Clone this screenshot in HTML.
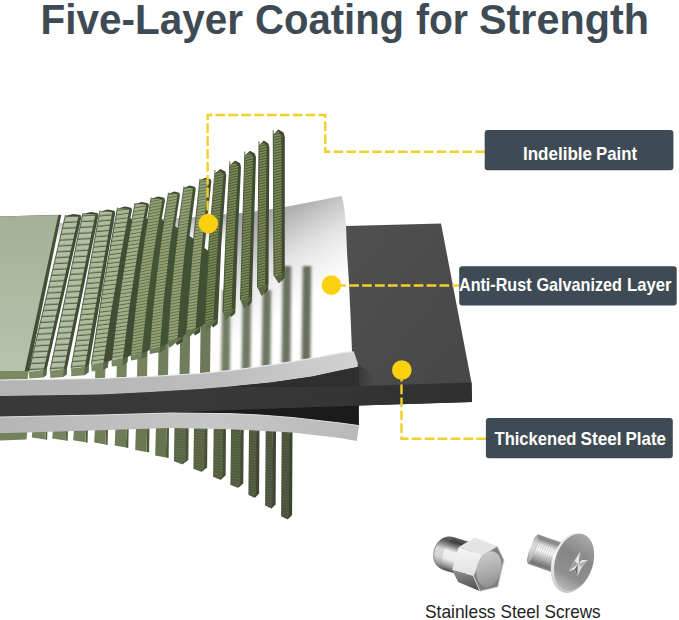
<!DOCTYPE html>
<html><head><meta charset="utf-8"><title>Five-Layer Coating for Strength</title>
<style>
html,body{margin:0;padding:0;background:#fff;}
body{width:679px;height:620px;overflow:hidden;font-family:"Liberation Sans",sans-serif;}
svg{display:block;position:absolute;left:0;top:0;}
text{font-family:"Liberation Sans",sans-serif;}
</style></head><body>
<svg width="679" height="620" viewBox="0 0 679 620">
<defs>
<linearGradient id="gPanel" x1="0" y1="0" x2="0" y2="1"><stop offset="0" stop-color="#a5b096"/><stop offset="1" stop-color="#b9c2ab"/></linearGradient>
<linearGradient id="gSheet" gradientUnits="userSpaceOnUse" x1="250" y1="201.1" x2="310" y2="305.5"><stop offset="0" stop-color="#9e9e9e"/><stop offset="0.167" stop-color="#a9a9a9"/><stop offset="0.29" stop-color="#b9b9b9"/><stop offset="0.375" stop-color="#c8c8c8"/><stop offset="0.53" stop-color="#dedede"/><stop offset="0.63" stop-color="#e9e9e9"/><stop offset="0.79" stop-color="#f5f5f5"/><stop offset="0.96" stop-color="#ffffff"/></linearGradient>
<linearGradient id="gSheetL" gradientUnits="userSpaceOnUse" x1="0" y1="213" x2="0" y2="250"><stop offset="0" stop-color="#a4a4a4"/><stop offset="0.35" stop-color="#cfcfcf"/><stop offset="0.7" stop-color="#f2f2f2"/><stop offset="1" stop-color="#ffffff"/></linearGradient>
<linearGradient id="gSlabTop" x1="0" y1="0" x2="1" y2="1"><stop offset="0" stop-color="#505050"/><stop offset="1" stop-color="#474747"/></linearGradient>
<linearGradient id="gBandT" x1="0" y1="0" x2="1" y2="0"><stop offset="0" stop-color="#b4b4b4"/><stop offset="0.6" stop-color="#bcbcbc"/><stop offset="1" stop-color="#d2d2d2"/></linearGradient>
<linearGradient id="gBandB" x1="0" y1="0" x2="1" y2="0"><stop offset="0" stop-color="#b6b6b6"/><stop offset="0.6" stop-color="#c6c6c6"/><stop offset="1" stop-color="#b9b9b9"/></linearGradient>
<linearGradient id="gFront" x1="0" y1="0" x2="1" y2="0"><stop offset="0" stop-color="#393939"/><stop offset="0.6" stop-color="#373737"/><stop offset="1" stop-color="#2f2f2f"/></linearGradient>
<linearGradient id="gDome" x1="0" y1="0" x2="0" y2="1"><stop offset="0" stop-color="#5a5a5a"/><stop offset="0.13" stop-color="#3f3f3f"/><stop offset="0.27" stop-color="#8c8c8c"/><stop offset="0.42" stop-color="#f0f0f0"/><stop offset="0.66" stop-color="#ededed"/><stop offset="0.84" stop-color="#a5a5a5"/><stop offset="1" stop-color="#4f4f4f"/></linearGradient>
<linearGradient id="gHexL" x1="0" y1="0" x2="0" y2="1"><stop offset="0" stop-color="#f6f6f6"/><stop offset="1" stop-color="#e2e2e2"/></linearGradient>
<linearGradient id="gHexB" x1="0" y1="0" x2="0.3" y2="1"><stop offset="0" stop-color="#939393"/><stop offset="1" stop-color="#555555"/></linearGradient>
<linearGradient id="gHexF" x1="0" y1="0" x2="0.4" y2="1"><stop offset="0" stop-color="#d0d0d0"/><stop offset="0.55" stop-color="#b4b4b4"/><stop offset="1" stop-color="#969696"/></linearGradient>
<linearGradient id="gShaft" x1="0" y1="0" x2="0" y2="1"><stop offset="0" stop-color="#9a9a9a"/><stop offset="0.1" stop-color="#858585"/><stop offset="0.28" stop-color="#e4e4e4"/><stop offset="0.46" stop-color="#fbfbfb"/><stop offset="0.68" stop-color="#bdbdbd"/><stop offset="0.9" stop-color="#747474"/><stop offset="1" stop-color="#8e8e8e"/></linearGradient>
<linearGradient id="gHead" x1="0.6" y1="0" x2="0.45" y2="1"><stop offset="0" stop-color="#a8a8a8"/><stop offset="0.4" stop-color="#878787"/><stop offset="0.75" stop-color="#8f8f8f"/><stop offset="1" stop-color="#b9b9b9"/></linearGradient>
<linearGradient id="gRim" x1="0" y1="0" x2="0" y2="1"><stop offset="0" stop-color="#dcdcdc"/><stop offset="0.5" stop-color="#f3f3f3"/><stop offset="1" stop-color="#c9c9c9"/></linearGradient>
<linearGradient id="gShadR" gradientUnits="userSpaceOnUse" x1="358" y1="0" x2="374" y2="0"><stop offset="0" stop-color="#2f2f2f" stop-opacity="0.7"/><stop offset="1" stop-color="#2f2f2f" stop-opacity="0"/></linearGradient>
<filter id="blur1" x="-50%" y="-10%" width="200%" height="120%"><feGaussianBlur stdDeviation="0.7 0.5"/></filter>
<filter id="blur2" x="-50%" y="-10%" width="200%" height="120%"><feGaussianBlur stdDeviation="1.6 1.2"/></filter>
<pattern id="brA" width="30" height="5.8" patternUnits="userSpaceOnUse" patternTransform="rotate(-3)"><rect width="30" height="5.8" fill="#b3bfa2"/><rect y="4.5" width="30" height="1.3" fill="#566449"/></pattern>
<pattern id="brB" width="30" height="5.1" patternUnits="userSpaceOnUse" patternTransform="rotate(-5)"><rect width="30" height="5.1" fill="#aebb9b"/><rect y="3.9" width="30" height="1.2" fill="#566448"/></pattern>
<pattern id="brB2" width="30" height="4.3" patternUnits="userSpaceOnUse" patternTransform="rotate(-7)"><rect width="30" height="4.3" fill="#a8b693"/><rect y="3.3" width="30" height="1" fill="#586647"/></pattern>
<pattern id="brC" width="30" height="3.6" patternUnits="userSpaceOnUse" patternTransform="rotate(-9)"><rect width="30" height="3.6" fill="#a0ae88"/><rect y="2.75" width="30" height="0.85" fill="#5a6947"/></pattern>
<pattern id="brD" width="30" height="2.9" patternUnits="userSpaceOnUse" patternTransform="rotate(-12)"><rect width="30" height="2.9" fill="#93a274"/><rect y="2.1" width="30" height="0.8" fill="#586743"/></pattern>
<pattern id="brE" width="30" height="2.6" patternUnits="userSpaceOnUse" patternTransform="rotate(-14)"><rect width="30" height="2.6" fill="#7f8e5a"/><rect y="1.55" width="30" height="1.05" fill="#485531"/></pattern>
<pattern id="brLines" width="30" height="2.7" patternUnits="userSpaceOnUse" patternTransform="rotate(8)"><rect y="1.9" width="30" height="0.8" fill="#2e361f" opacity="0.35"/></pattern>
</defs>

<polygon points="96.0,223.0 150.0,220.0 200.0,217.0 250.0,212.0 285.0,207.0 341.7,196.0 344.0,206.0 346.0,225.0 347.0,252.0 348.8,280.0 350.5,315.0 352.0,351.5 340.0,352.5 300.0,361.0 270.0,366.5 235.0,371.5 200.0,375.0 150.0,378.0 100.0,379.5 0.0,380.5 0.0,223.0" fill="url(#gSheet)"/>
<polygon points="96.0,223.0 150.0,220.0 200.0,217.0 232.0,214.0 232.0,372.0 200.0,375.0 150.0,378.0 100.0,379.5 0.0,380.5 0.0,223.0" fill="url(#gSheetL)"/>
<g filter="url(#blur1)">
<polygon points="95.7,355.0 105.7,355.0 105.0,380.5 95.0,380.5" fill="#78865f"/>
<polygon points="117.2,350.0 127.2,350.0 126.5,379.4 116.5,379.4" fill="#76845d"/>
<polygon points="137.7,344.0 147.7,344.0 147.0,378.4 137.0,378.4" fill="#74825c"/>
<polygon points="158.7,337.0 168.7,337.0 168.0,377.2 158.0,377.2" fill="#727f5b"/>
<polygon points="180.2,330.0 190.2,330.0 189.5,375.9 179.5,375.9" fill="#707c5a"/>
<polygon points="200.7,320.0 210.7,320.0 210.0,374.4 200.0,374.4" fill="#6e795a"/>
</g>
<g filter="url(#blur2)">
<polygon points="222.3,290.0 230.7,290.0 229.9,372.1 221.1,372.1" fill="#727b64"/>
<polygon points="242.8,290.0 251.2,290.0 250.4,369.6 241.6,369.6" fill="#6f7762"/>
<polygon points="262.8,290.0 271.2,290.0 270.4,367.0 261.6,367.0" fill="#6d7461"/>
<polygon points="282.8,266.0 291.2,266.0 290.4,363.8 281.6,363.8" fill="#6b7160"/>
<polygon points="302.8,266.0 311.2,266.0 310.4,360.3 301.6,360.3" fill="#686d5e"/>
</g>
<polygon points="0.0,216.6 61.3,214.8 28.9,371.5 24.0,372.0 0.0,372.0" fill="#434f36"/>
<polygon points="0.0,216.6 58.3,214.9 24.7,371.0 0.0,371.5" fill="url(#gPanel)"/>
<polygon points="0.0,371.6 24.5,371.0 28.5,371.5 27.5,379.3 0.0,380.0" fill="#7a8962"/>
<polygon points="78.5,216.0 81.5,216.6 64.1,293.2 46.7,369.3 46.3,374.9 43.0,377.6 39.5,370.6 57.0,293.2 74.5,219.0" fill="#414d35"/>
<polygon points="28.9,371.4 43.5,370.6 46.7,369.3 46.3,374.9 43.0,377.6 29.2,378.4" fill="#7d8c65"/>
<polygon points="43.5,370.6 46.7,369.3 46.3,374.9 43.0,377.6" fill="#414d35" opacity="0.55"/>
<path d="M65.5 215.7 L73.6 215.0 L78.5 216.0 Q61.0 293.2 43.5 370.6 L28.9 371.4 Q47.2 293.2 65.5 215.7Z" fill="url(#brA)"/>
<path d="M65.5 215.0 Q47.2 293.2 28.9 371.4" fill="none" stroke="#414d35" stroke-width="1" opacity="0.85"/>
<polygon points="65.1,216.0 73.6,214.1 80.3,215.1 81.5,216.6 78.5,216.5 73.6,215.9" fill="#3c4730"/>
<polygon points="95.5,214.1 98.5,214.7 82.8,291.8 67.0,368.2 66.6,374.2 63.2,377.0 59.7,369.5 75.6,291.8 91.5,217.0" fill="#414d35"/>
<polygon points="50.0,370.5 63.7,369.5 67.0,368.2 66.6,374.2 63.2,377.0 50.3,378.0" fill="#7c8b64"/>
<polygon points="63.7,369.5 67.0,368.2 66.6,374.2 63.2,377.0" fill="#414d35" opacity="0.55"/>
<path d="M83.0 213.8 L90.8 213.0 L95.5 214.1 Q79.6 291.8 63.7 369.5 L50.0 370.5 Q66.5 291.8 83.0 213.8Z" fill="url(#brA)"/>
<path d="M83.0 213.0 Q66.5 291.8 50.0 370.5" fill="none" stroke="#414d35" stroke-width="1" opacity="0.85"/>
<polygon points="82.6,214.1 90.8,212.1 97.3,213.1 98.5,214.7 95.5,214.6 90.8,213.9" fill="#3c4730"/>
<polygon points="112.3,211.7 115.3,212.3 102.0,289.4 88.8,365.9 88.4,372.3 84.3,375.3 80.8,367.3 94.5,289.4 108.3,214.5" fill="#414d34"/>
<polygon points="71.0,368.3 84.8,367.3 88.8,365.9 88.4,372.3 84.3,375.3 71.3,376.3" fill="#7b8a63"/>
<polygon points="84.8,367.3 88.8,365.9 88.4,372.3 84.3,375.3" fill="#414d34" opacity="0.55"/>
<path d="M100.0 211.4 L107.6 210.5 L112.3 211.7 Q98.5 289.4 84.8 367.3 L71.0 368.3 Q85.5 289.4 100.0 211.4Z" fill="url(#brB)"/>
<path d="M100.0 210.5 Q85.5 289.4 71.0 368.3" fill="none" stroke="#414d34" stroke-width="1" opacity="0.85"/>
<polygon points="99.6,211.7 107.6,209.6 114.1,210.7 115.3,212.3 112.3,212.2 107.6,211.4" fill="#3c4730"/>
<polygon points="129.5,208.8 132.1,209.4 130.4,218.0 134.8,223.0 124.2,286.0 114.6,359.0 108.3,361.6 107.9,367.2 102.9,370.1 99.4,363.1 111.4,286.0 125.5,211.5" fill="#414d34"/>
<polygon points="91.3,364.5 103.4,363.1 108.3,361.6 107.9,367.2 102.9,370.1 91.6,371.5" fill="#7a8962"/>
<polygon points="103.4,363.1 108.3,361.6 107.9,367.2 102.9,370.1" fill="#414d34" opacity="0.55"/>
<path d="M117.5 208.5 L124.9 207.5 L129.5 208.8 Q114.4 286.0 103.4 363.1 L91.3 364.5 Q102.4 286.0 117.5 208.5Z" fill="url(#brB2)"/>
<path d="M117.5 207.5 Q102.4 286.0 91.3 364.5" fill="none" stroke="#414d34" stroke-width="1" opacity="0.85"/>
<polygon points="117.1,208.8 124.9,206.6 131.1,207.7 132.1,209.4 129.5,209.3 124.9,208.4" fill="#3c4730"/>
<polygon points="146.2,204.3 149.0,205.1 146.5,218.0 150.5,223.0 141.7,281.5 133.8,354.0 127.7,357.0 127.3,362.3 122.4,365.2 118.9,358.6 129.1,281.5 142.2,207.0" fill="#404c33"/>
<polygon points="111.5,360.0 122.9,358.6 127.7,357.0 127.3,362.3 122.4,365.2 111.8,366.6" fill="#798862"/>
<polygon points="122.9,358.6 127.7,357.0 127.3,362.3 122.4,365.2" fill="#404c33" opacity="0.55"/>
<path d="M135.0 204.0 L141.9 203.0 L146.2 204.3 Q131.6 281.5 122.9 358.6 L111.5 360.0 Q120.2 281.5 135.0 204.0Z" fill="url(#brC)"/>
<path d="M135.0 203.0 Q120.2 281.5 111.5 360.0" fill="none" stroke="#404c33" stroke-width="1" opacity="0.85"/>
<polygon points="134.6,204.3 141.9,202.1 147.9,203.2 149.0,205.0 146.2,204.8 141.9,203.9" fill="#3c4730"/>
<polygon points="162.5,198.9 165.1,199.7 161.7,219.0 167.0,224.0 159.5,276.2 152.6,347.7 147.0,351.6 146.6,356.0 141.2,358.8 137.7,353.3 146.4,276.2 158.5,201.5" fill="#445236"/>
<polygon points="130.7,355.0 141.7,353.3 147.0,351.6 146.6,356.0 141.2,358.8 131.0,360.5" fill="#74835d"/>
<polygon points="141.7,353.3 147.0,351.6 146.6,356.0 141.2,358.8" fill="#445236" opacity="0.55"/>
<path d="M151.2 198.6 L158.2 197.5 L162.5 198.9 Q148.7 276.2 141.7 353.3 L130.7 355.0 Q137.6 276.2 151.2 198.6Z" fill="url(#brD)"/>
<path d="M151.2 197.5 Q137.6 276.2 130.7 355.0" fill="none" stroke="#445236" stroke-width="1" opacity="0.85"/>
<polygon points="150.8,198.9 158.2,196.6 164.1,197.8 165.1,199.7 162.5,199.4 158.2,198.4" fill="#3c4730"/>
<polygon points="177.7,194.0 180.0,194.8 175.1,226.0 181.3,231.0 176.4,270.6 170.6,340.0 165.5,345.2 165.1,349.4 159.5,352.2 156.0,346.9 162.8,270.6 173.7,196.5" fill="#435135"/>
<polygon points="149.5,348.7 160.0,346.9 165.5,345.2 165.1,349.4 159.5,352.2 149.8,354.0" fill="#6f7e59"/>
<polygon points="160.0,346.9 165.5,345.2 165.1,349.4 159.5,352.2" fill="#435135" opacity="0.55"/>
<path d="M168.5 193.7 L174.2 192.5 L177.7 194.0 Q164.8 270.6 160.0 346.9 L149.5 348.7 Q155.0 270.6 168.5 193.7Z" fill="url(#brD)"/>
<path d="M168.5 192.5 Q155.0 270.6 149.5 348.7" fill="none" stroke="#435135" stroke-width="1" opacity="0.85"/>
<polygon points="168.1,194.0 174.2,191.6 179.1,192.8 180.0,194.8 177.7,194.5 174.2,193.4" fill="#3c4730"/>
<polygon points="193.0,188.0 195.8,188.8 189.5,236.0 196.6,241.0 194.3,263.7 189.1,330.0 183.0,336.9 182.6,342.1 177.0,345.2 173.5,338.7 179.4,263.7 189.0,190.4" fill="#425034"/>
<polygon points="167.5,341.0 177.5,338.7 183.0,336.9 170.4,347.2 168.9,347.5" fill="#6b7a55"/>
<path d="M184.0 187.7 L189.6 186.4 L193.0 188.0 Q181.6 263.7 177.5 338.7 L167.5 341.0 Q172.1 263.7 184.0 187.7Z" fill="url(#brD)"/>
<path d="M184.0 186.4 Q172.1 263.7 167.5 341.0" fill="none" stroke="#425034" stroke-width="1" opacity="0.85"/>
<polygon points="183.6,188.0 189.6,185.5 194.7,186.8 195.8,188.8 193.0,188.5 189.6,187.3" fill="#3c4730"/>
<polygon points="208.7,180.4 211.3,181.2 204.5,248.0 211.4,253.0 211.3,254.8 207.6,321.5 200.5,327.1 200.1,332.3 195.0,335.5 191.5,329.0 197.1,254.8 204.7,182.7" fill="#414f33"/>
<polygon points="186.0,331.0 195.5,329.0 200.5,327.1 189.1,337.2 187.6,337.5" fill="#677651"/>
<path d="M200.0 180.1 L205.4 178.7 L208.7 180.4 Q200.1 254.8 195.5 329.0 L186.0 331.0 Q191.0 254.8 200.0 180.1Z" fill="url(#brD)"/>
<path d="M200.0 178.7 Q191.0 254.8 186.0 331.0" fill="none" stroke="#414f33" stroke-width="1" opacity="0.85"/>
<polygon points="199.6,180.4 205.4,177.8 210.3,179.1 211.3,181.2 208.7,180.9 205.4,179.6" fill="#3c4730"/>
<polygon points="223.7,173.8 226.3,175.0 221.2,246.2 218.0,318.5 217.6,324.1 213.0,327.5 209.5,320.5 213.6,246.2 219.7,174.0" fill="#414e33"/>
<polygon points="204.5,322.5 213.5,320.5 218.0,318.5 208.6,329.2 207.1,329.5" fill="#63724d"/>
<path d="M215.0 173.5 L220.4 170.0 L223.7 173.8 Q216.6 246.2 213.5 320.5 L204.5 322.5 Q207.8 246.2 215.0 173.5Z" fill="url(#brE)"/>
<path d="M215.0 170.0 Q207.8 246.2 204.5 322.5" fill="none" stroke="#414e33" stroke-width="1" opacity="0.85"/>
<polygon points="214.6,173.8 220.4,169.1 225.3,171.6 226.3,175.0 223.7,174.3 220.4,170.9" fill="#3c4730"/>
<polygon points="238.4,165.5 241.0,166.8 237.8,236.9 235.5,307.8 235.1,313.4 231.0,316.9 227.5,309.9 230.4,236.9 234.4,165.4" fill="#404d32"/>
<polygon points="223.0,312.5 231.5,309.9 235.5,307.8 227.1,319.2 225.6,319.5" fill="#5f6e4a"/>
<path d="M229.9 165.2 L235.2 161.4 L238.4 165.5 Q233.9 236.9 231.5 309.9 L223.0 312.5 Q225.4 236.9 229.9 165.2Z" fill="url(#brE)"/>
<path d="M229.9 161.4 Q225.4 236.9 223.0 312.5" fill="none" stroke="#404d32" stroke-width="1" opacity="0.85"/>
<polygon points="229.5,165.5 235.2,160.5 240.0,163.2 241.0,166.8 238.4,166.0 235.2,162.3" fill="#3c4730"/>
<polygon points="253.0,156.0 256.0,157.3 254.0,225.8 252.0,296.1 251.6,302.5 248.0,306.3 244.5,298.3 246.8,225.8 249.0,155.6" fill="#404c32"/>
<polygon points="240.5,300.0 248.5,298.3 252.0,296.1 245.2,307.7 243.7,308.0" fill="#5c6a47"/>
<path d="M244.8 155.7 L249.9 151.6 L253.0 156.0 Q250.8 225.8 248.5 298.3 L240.5 300.0 Q242.7 225.8 244.8 155.7Z" fill="url(#brE)"/>
<path d="M244.8 151.6 Q242.7 225.8 240.5 300.0" fill="none" stroke="#404c32" stroke-width="1" opacity="0.85"/>
<polygon points="244.4,156.0 249.9,150.7 254.8,153.5 256.0,157.3 253.0,156.5 249.9,152.5" fill="#3c4730"/>
<polygon points="266.7,145.9 269.4,147.4 268.9,214.4 268.5,283.5 268.1,289.9 264.6,293.8 261.1,285.8 261.9,214.4 262.7,145.3" fill="#3f4b31"/>
<polygon points="257.5,287.5 265.1,285.8 268.5,283.5 262.8,295.2 261.3,295.5" fill="#596744"/>
<path d="M259.0 145.6 L263.8 141.3 L266.7 145.9 Q265.9 214.4 265.1 285.8 L257.5 287.5 Q258.2 214.4 259.0 145.6Z" fill="url(#brE)"/>
<path d="M259.0 141.3 Q258.2 214.4 257.5 287.5" fill="none" stroke="#3f4b31" stroke-width="1" opacity="0.85"/>
<polygon points="258.6,145.9 263.8,140.4 268.3,143.4 269.4,147.4 266.7,146.4 263.8,142.2" fill="#3c4730"/>
<polygon points="281.5,135.3 284.8,136.8 284.8,203.2 284.8,272.1 284.4,277.7 281.1,281.4 277.6,274.4 277.6,203.2 277.5,134.4" fill="#3f4a31"/>
<polygon points="274.0,276.0 281.6,274.4 284.8,272.1 280.0,282.7 278.5,283.0" fill="#566442"/>
<path d="M273.2 135.0 L278.3 130.4 L281.5 135.3 Q281.6 203.2 281.6 274.4 L274.0 276.0 Q273.6 203.2 273.2 135.0Z" fill="url(#brE)"/>
<path d="M273.2 130.4 Q273.6 203.2 274.0 276.0" fill="none" stroke="#3f4a31" stroke-width="1" opacity="0.85"/>
<polygon points="272.8,135.3 278.3,129.5 283.5,132.6 284.8,136.8 281.5,135.8 278.3,131.3" fill="#3c4730"/>
<polygon points="0.0,395.5 0.0,395.5 100.0,394.0 150.0,391.5 200.0,388.5 230.0,386.0 271.0,382.1 312.5,376.0 340.0,370.0 358.9,366.3 359.0,366.0 471.5,382.6 472.0,402.0 359.0,405.6 358.9,426.1 340.0,423.5 292.0,418.0 260.0,415.5 230.0,414.1 170.0,413.5 100.0,415.5 0.0,417.5" fill="#2c2c2c"/>
<polygon points="170.0,412.5 230.0,410.0 300.0,407.5 357.8,405.8 358.9,426.0 340.0,423.5 292.0,418.0 260.0,415.5 230.0,414.1 170.0,413.5" fill="#1b1b1b"/>
<polygon points="0.0,396.0 100.0,394.5 150.0,392.0 200.0,389.0 230.0,386.5 300.0,387.0 353.7,386.0 471.5,382.6 472.0,402.0 359.0,405.6 300.0,407.5 230.0,410.0 170.0,412.7 100.0,415.0 0.0,417.0" fill="url(#gFront)"/>
<polygon points="0.0,380.0 100.0,378.5 150.0,376.5 200.0,373.5 235.0,370.0 280.0,363.7 320.0,357.0 340.0,353.0 353.7,351.3 358.9,366.8 340.0,370.5 312.5,376.5 271.0,382.6 230.0,386.5 200.0,389.0 150.0,392.0 100.0,394.5 0.0,396.0" fill="url(#gBandT)"/>
<polyline points="0.0,380.0 100.0,378.5 150.0,376.5 200.0,373.5 235.0,370.0 280.0,363.7 320.0,357.0 340.0,353.0 353.7,351.3" fill="none" stroke="#e9e9e9" stroke-width="1.2"/>
<polygon points="346.0,226.0 441.0,223.5 471.5,382.4 359.0,386.0 358.9,366.8 353.7,351.3 352.0,351.5 350.5,315.0 348.8,280.0 347.0,252.0" fill="url(#gSlabTop)"/>
<polygon points="357.5,364.0 374.0,374.0 374.0,385.6 358.5,386.2" fill="url(#gShadR)"/>
<polygon points="358.9,366.8 340.0,370.5 312.5,376.5 271.0,382.6 230.0,386.5 300.0,386.8 359.0,386.0" fill="#2f2f2f"/>
<polygon points="0.0,430.0 27.5,430.0 26.5,439.6 0.0,440.6" fill="#73815c"/>
<polygon points="45.9,429.5 47.5,429.5 47.1,440.0 45.3,439.4" fill="#56633f"/>
<polygon points="32.5,429.5 45.9,429.5 45.3,439.4 31.7,437.4" fill="#76845f"/>
<polygon points="66.2,429.0 68.0,429.0 67.6,441.0 65.7,440.4" fill="#55623e"/>
<polygon points="53.0,429.0 66.2,429.0 65.7,440.4 52.2,438.4" fill="#74825d"/>
<polygon points="86.1,428.0 88.0,428.0 87.6,442.8 85.5,442.2" fill="#54613d"/>
<polygon points="74.0,428.0 86.1,428.0 85.5,442.2 73.2,440.2" fill="#72805b"/>
<polygon points="106.0,427.5 108.0,427.5 107.6,445.0 105.4,444.4" fill="#53603c"/>
<polygon points="95.0,427.5 106.0,427.5 105.4,444.4 94.2,442.4" fill="#707e59"/>
<polygon points="126.5,427.0 128.7,427.0 128.3,448.0 125.9,447.4" fill="#515e3b"/>
<polygon points="115.5,427.0 126.5,427.0 125.9,447.4 114.7,445.4" fill="#6d7b56"/>
<polygon points="147.2,426.5 149.5,426.5 149.1,452.5 146.6,451.9" fill="#4f5c3a"/>
<polygon points="136.0,426.5 147.2,426.5 146.6,451.9 135.2,449.9" fill="#6a7853"/>
<polygon points="166.5,426.0 169.0,426.0 168.6,458.0 165.9,457.4" fill="#4d5939"/>
<polygon points="156.0,426.0 166.5,426.0 165.9,457.4 155.2,455.4" fill="#677450"/>
<polygon points="186.0,425.7 188.7,425.7 188.3,460.0 182.3,464.5 180.8,462.5" fill="#4a543a"/>
<polygon points="174.5,425.7 186.0,425.7 185.7,460.3 181.3,463.9 173.9,461.2" fill="#626e4d"/>
<polygon points="174.5,425.7 186.0,425.7 185.7,460.3 181.3,463.9 173.9,461.2" fill="url(#brLines)"/>
<polygon points="204.7,426.5 207.5,426.5 207.1,467.5 201.4,472.0 199.9,470.0" fill="#475038"/>
<polygon points="194.0,426.5 204.7,426.5 204.4,467.8 200.4,471.4 193.4,468.7" fill="#5f6a4b"/>
<polygon points="194.0,426.5 204.7,426.5 204.4,467.8 200.4,471.4 193.4,468.7" fill="url(#brLines)"/>
<polygon points="223.1,427.0 226.0,427.0 225.6,475.5 220.5,480.0 219.0,478.0" fill="#444d36"/>
<polygon points="213.7,427.0 223.1,427.0 222.8,475.8 219.5,479.4 213.1,476.7" fill="#5c6748"/>
<polygon points="213.7,427.0 223.1,427.0 222.8,475.8 219.5,479.4 213.1,476.7" fill="url(#brLines)"/>
<polygon points="240.6,427.5 243.7,427.5 243.3,483.5 238.0,488.0 236.5,486.0" fill="#424b34"/>
<polygon points="231.0,427.5 240.6,427.5 240.3,483.8 237.0,487.4 230.4,484.7" fill="#596446"/>
<polygon points="231.0,427.5 240.6,427.5 240.3,483.8 237.0,487.4 230.4,484.7" fill="url(#brLines)"/>
<polygon points="256.3,428.0 259.5,428.0 259.1,493.5 254.8,498.0 253.3,496.0" fill="#404832"/>
<polygon points="249.0,428.0 256.3,428.0 256.0,493.8 253.8,497.4 248.4,494.7" fill="#566044"/>
<polygon points="249.0,428.0 256.3,428.0 256.0,493.8 253.8,497.4 248.4,494.7" fill="url(#brLines)"/>
<polygon points="272.8,429.5 276.0,429.5 275.6,504.2 271.4,508.7 269.9,506.7" fill="#3e4631"/>
<polygon points="265.7,429.5 272.8,429.5 272.5,504.5 270.4,508.1 265.1,505.4" fill="#535d42"/>
<polygon points="265.7,429.5 272.8,429.5 272.5,504.5 270.4,508.1 265.1,505.4" fill="url(#brLines)"/>
<polygon points="289.3,430.7 292.5,430.7 292.1,515.0 287.6,519.5 286.1,517.5" fill="#3c442f"/>
<polygon points="281.7,430.7 289.3,430.7 289.0,515.3 286.6,518.9 281.1,516.2" fill="#505a40"/>
<polygon points="281.7,430.7 289.3,430.7 289.0,515.3 286.6,518.9 281.1,516.2" fill="url(#brLines)"/>
<polygon points="0.0,417.0 100.0,415.0 170.0,413.0 230.0,413.6 260.0,415.0 292.0,417.5 340.0,423.0 358.9,425.6 356.8,441.0 340.0,438.0 292.0,432.5 245.0,430.0 230.0,429.3 170.0,428.0 100.0,430.3 0.0,433.3" fill="url(#gBandB)"/>
<polyline points="0.0,417.0 100.0,415.0 170.0,413.0 230.0,413.6 260.0,415.0 292.0,417.5 340.0,423.0 358.9,425.6" fill="none" stroke="#dedede" stroke-width="1"/>
<g fill="none" stroke="#f3cf2b" stroke-width="2.4" stroke-dasharray="9.7 3.2">
<path d="M485 151.8 H325.3 V115 H207.6 V223"/>
<path d="M459 285.5 H332" stroke-dashoffset="3.1"/>
<path d="M486 438.8 H401.5 V370"/>
</g>
<circle cx="208.3" cy="223.6" r="9.8" fill="#fbd00f"/>
<circle cx="331.4" cy="285.1" r="9.8" fill="#fbd00f"/>
<circle cx="401.8" cy="370" r="9.8" fill="#fbd00f"/>
<g>
<g transform="translate(468.2,559.6) rotate(17)">
<path d="M2 -16.9 H-20 C-29.5 -16.9 -35.2 -9.5 -35.2 0 C-35.2 9.5 -29.5 16.9 -20 16.9 H2 Z" fill="url(#gDome)" stroke="#4a4a4a" stroke-width="0.5"/>
<path d="M-20 -16.9 C-29.5 -16.9 -35.2 -9.5 -35.2 0 C-35.2 9.5 -29.5 16.9 -20 16.9 C-27 9 -28 -8 -20 -16.9 Z" fill="#909090" opacity="0.25"/>
</g>
<polygon points="474.7,537.6 497.2,546.2 482,555.5 458.8,546.9" fill="#e4e4e4"/>
<polygon points="458.8,546.9 482,555.5 473.4,576 452.2,570" fill="url(#gHexL)"/>
<polygon points="452.2,570 473.4,576 480,591.3 458.1,582" fill="url(#gHexB)"/>
<polygon points="482,555.5 497.2,546.2 504.1,560.1 497.9,587 480,591.3 473.4,576" fill="#808080"/>
<polygon points="482,555.5 497.2,546.2 504.1,560.1 497.9,587 480,591.3 473.4,576" fill="none" stroke="#d9d9d9" stroke-width="0.9"/>
<ellipse cx="489" cy="569" rx="12.3" ry="18" transform="rotate(14 489 569)" fill="url(#gHexF)"/>
</g>
<g>
<g transform="translate(572.7,562.8) rotate(19)">
<rect x="-41.5" y="-15.6" width="36" height="31.2" fill="url(#gShaft)"/>
<ellipse cx="-41.5" cy="0" rx="3.8" ry="15.6" fill="url(#gShaft)"/>
<ellipse cx="-41.9" cy="0" rx="2.7" ry="14.2" fill="#c4c4c4" opacity="0.6"/>
<g stroke="#777" stroke-width="0.5" opacity="0.38" fill="none">
<path d="M-38.50 -15.4 Q-41.30 0 -38.50 15.4"/>
<path d="M-36.25 -15.4 Q-39.05 0 -36.25 15.4"/>
<path d="M-34.00 -15.4 Q-36.80 0 -34.00 15.4"/>
<path d="M-31.75 -15.4 Q-34.55 0 -31.75 15.4"/>
<path d="M-29.50 -15.4 Q-32.30 0 -29.50 15.4"/>
<path d="M-27.25 -15.4 Q-30.05 0 -27.25 15.4"/>
<path d="M-25.00 -15.4 Q-27.80 0 -25.00 15.4"/>
<path d="M-22.75 -15.4 Q-25.55 0 -22.75 15.4"/>
<path d="M-20.50 -15.4 Q-23.30 0 -20.50 15.4"/>
<path d="M-18.25 -15.4 Q-21.05 0 -18.25 15.4"/>
<path d="M-16.00 -15.4 Q-18.80 0 -16.00 15.4"/>
<path d="M-13.75 -15.4 Q-16.55 0 -13.75 15.4"/>
<path d="M-11.50 -15.4 Q-14.30 0 -11.50 15.4"/>
</g>
</g>
<ellipse cx="572.3" cy="563.1" rx="20.3" ry="30.6" transform="rotate(18 572.3 563.1)" fill="url(#gRim)"/>
<ellipse cx="574.1" cy="562.2" rx="18.9" ry="29.4" transform="rotate(18 574.1 562.2)" fill="url(#gHead)"/>
<g transform="translate(578,564.1)">
<polygon points="2,-12 4.2,-4 9.6,-4.2 3.6,3.4 -0.7,12 -3.4,4.8 -8.8,6.8 -3.6,-3.2" fill="#cdcdcd"/>
<polygon points="2,-12 4.2,-4 0,0 -3.6,-3.2" fill="#8e8e8e"/>
<polygon points="2,-12 0.8,-2 0,0 -3.6,-3.2" fill="#e6e6e6"/>
<polygon points="9.6,-4.2 3.6,3.4 0,0 4.2,-4" fill="#ececec"/>
<polygon points="9.6,-4.2 3.6,3.4 0,0" fill="#b0b0b0"/>
<polygon points="-0.7,12 -3.4,4.8 0,0 3.6,3.4" fill="#dcdcdc"/>
<polygon points="-0.7,12 -3.4,4.8 0,0" fill="#6e6e6e"/>
<polygon points="-8.8,6.8 -3.6,-3.2 0,0 -3.4,4.8" fill="#f0f0f0"/>
<polygon points="-8.8,6.8 -3.6,-3.2 0,0" fill="#a0a0a0"/>
</g>
</g>
<rect x="484.7" y="130" width="188.7" height="40.2" rx="3" fill="#3f4b54"/>
<rect x="459.2" y="266.2" width="217.5" height="39.3" rx="3" fill="#3f4b54"/>
<rect x="485.9" y="417.9" width="186.9" height="40.4" rx="3" fill="#3f4b54"/>
<g fill="#fff" font-weight="bold" font-size="18.4">
<text x="523.0" y="159.7" textLength="69.01" lengthAdjust="spacingAndGlyphs">Indelible</text>
<text x="596.0" y="159.7" textLength="41.01" lengthAdjust="spacingAndGlyphs">Paint</text>
<text x="459.0" y="290.9" textLength="72.51" lengthAdjust="spacingAndGlyphs">Anti-Rust</text>
<text x="536.5" y="290.9" textLength="85.52" lengthAdjust="spacingAndGlyphs">Galvanized</text>
<text x="627.0" y="290.9" textLength="44.51" lengthAdjust="spacingAndGlyphs">Layer</text>
<text x="494.5" y="445.2" textLength="82.01" lengthAdjust="spacingAndGlyphs">Thickened</text>
<text x="580.5" y="445.2" textLength="41.07" lengthAdjust="spacingAndGlyphs">Steel</text>
<text x="625.5" y="445.2" textLength="40.53" lengthAdjust="spacingAndGlyphs">Plate</text>
</g>
<g font-size="19" fill="#222">
<text x="425.0" y="618" textLength="70.53" lengthAdjust="spacingAndGlyphs">Stainless</text>
<text x="500.5" y="618" textLength="39.04" lengthAdjust="spacingAndGlyphs">Steel</text>
<text x="544.5" y="618" textLength="56.03" lengthAdjust="spacingAndGlyphs">Screws</text>
</g>
<g font-size="43" font-weight="bold" fill="#3f4b54">
<text x="40.5" y="33.6" textLength="202.55" lengthAdjust="spacingAndGlyphs">Five-Layer</text>
<text x="255.0" y="33.6" textLength="149.09" lengthAdjust="spacingAndGlyphs">Coating</text>
<text x="416.0" y="33.6" textLength="52.05" lengthAdjust="spacingAndGlyphs">for</text>
<text x="479.0" y="33.6" textLength="170.08" lengthAdjust="spacingAndGlyphs">Strength</text>
</g>
</svg></body></html>
